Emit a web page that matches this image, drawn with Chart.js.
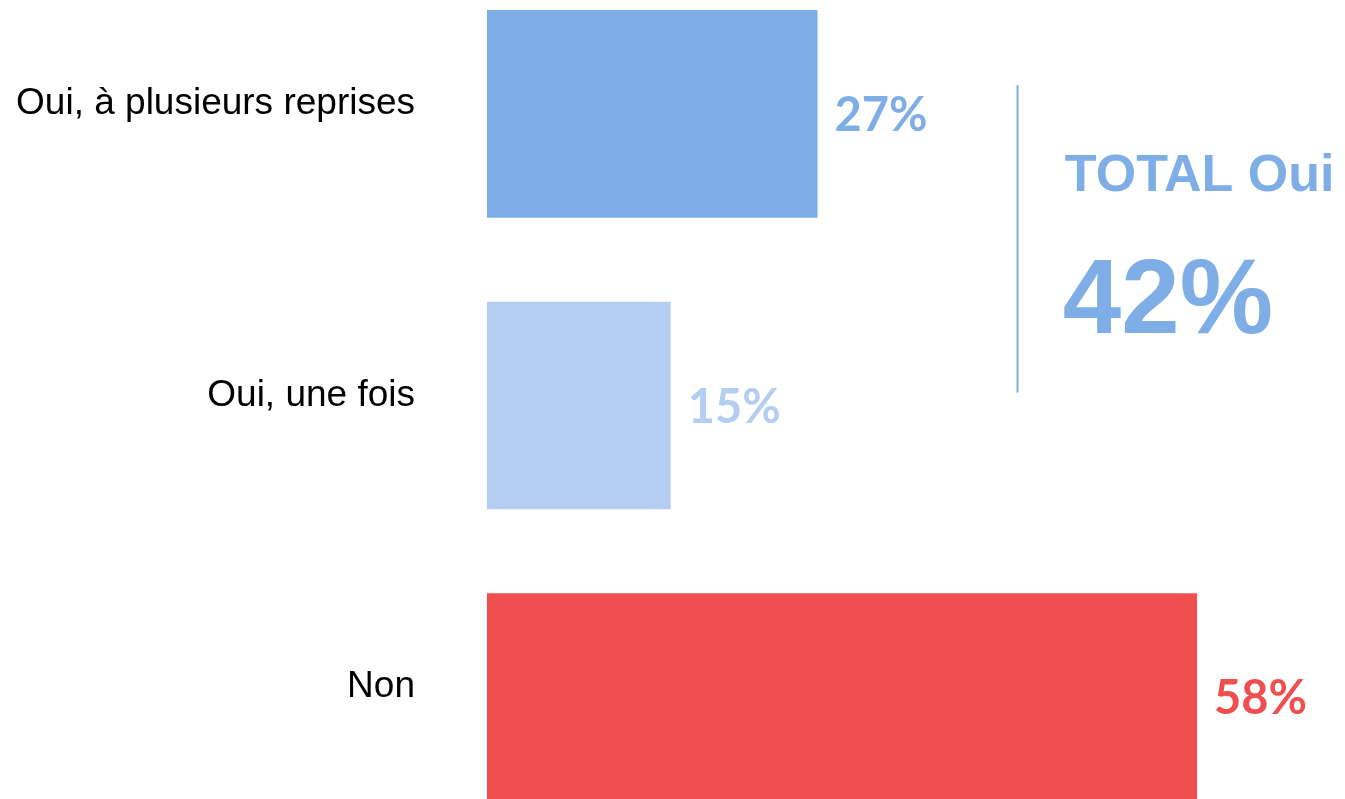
<!DOCTYPE html>
<html>
<head>
<meta charset="utf-8">
<script src="https://cdn.jsdelivr.net/npm/chart.js@4/dist/chart.umd.min.js"></script>
<style>
  html, body { margin: 0; padding: 0; background: #fff; overflow: hidden; }
  #c { position: absolute; left: 0; top: -32px; }
</style>
</head>
<body>
<canvas id="c" width="1345" height="875"></canvas>
<script>
const categories = ["Oui, à plusieurs reprises", "Oui, une fois", "Non"];
const values = [27, 15, 58];
const barColors = ["#7EAEE5", "#B3CEF1", "#F04F4F"];
const totalLabel = "TOTAL Oui";
const totalValue = 42;

const annotationPlugin = {
  id: 'annot',
  afterDatasetsDraw(chart) {
    const ctx = chart.ctx;
    const meta = chart.getDatasetMeta(0);
    const xs = chart.scales.x, ys = chart.scales.y;
    ctx.save();
    ctx.font = 'bold 47px Lato, "Open Sans", sans-serif';
    ctx.textBaseline = 'middle';
    ctx.textAlign = 'left';
    meta.data.forEach((bar, i) => {
      ctx.fillStyle = barColors[i];
      ctx.fillText(values[i] + '%', bar.x + 17, bar.y + 2);
    });
    const lx = Math.round(xs.getPixelForValue(43.3)) + 0.5;
    ctx.strokeStyle = barColors[0];
    ctx.lineWidth = 2;
    ctx.beginPath();
    ctx.moveTo(lx, ys.getPixelForValue(-0.098));
    ctx.lineTo(lx, ys.getPixelForValue(0.955));
    ctx.stroke();
    const tx = xs.getPixelForValue(47.2);
    ctx.fillStyle = barColors[0];
    ctx.textBaseline = 'alphabetic';
    ctx.font = 'bold 52px "Liberation Sans", Arial, sans-serif';
    ctx.fillText(totalLabel, tx, ys.getPixelForValue(0.263));
    ctx.font = 'bold 105px "Liberation Sans", Arial, sans-serif';
    ctx.fillText(totalValue + '%', tx - 2, ys.getPixelForValue(0.753));
    ctx.restore();
  }
};

new Chart(document.getElementById('c'), {
  type: 'bar',
  data: {
    labels: categories,
    datasets: [{
      data: values,
      backgroundColor: barColors,
      borderWidth: 0,
      categoryPercentage: 1,
      barPercentage: 0.712
    }]
  },
  options: {
    indexAxis: 'y',
    responsive: false,
    animation: false,
    layout: { padding: { left: 0, right: 1, top: 0, bottom: 0 } },
    plugins: { legend: { display: false }, tooltip: { enabled: false } },
    scales: {
      x: { display: false, min: 0, max: 70 },
      y: {
        grid: { display: false, drawTicks: false },
        border: { display: false },
        afterFit(axis) { axis.width = 487; axis.paddingTop = 0; axis.paddingBottom = 0; },
        ticks: {
          padding: 72,
          labelOffset: -10,
          color: '#000',
          font: { family: '"Liberation Sans", Arial, sans-serif', size: 37 }
        }
      }
    }
  },
  plugins: [annotationPlugin]
});
</script>
</body>
</html>
